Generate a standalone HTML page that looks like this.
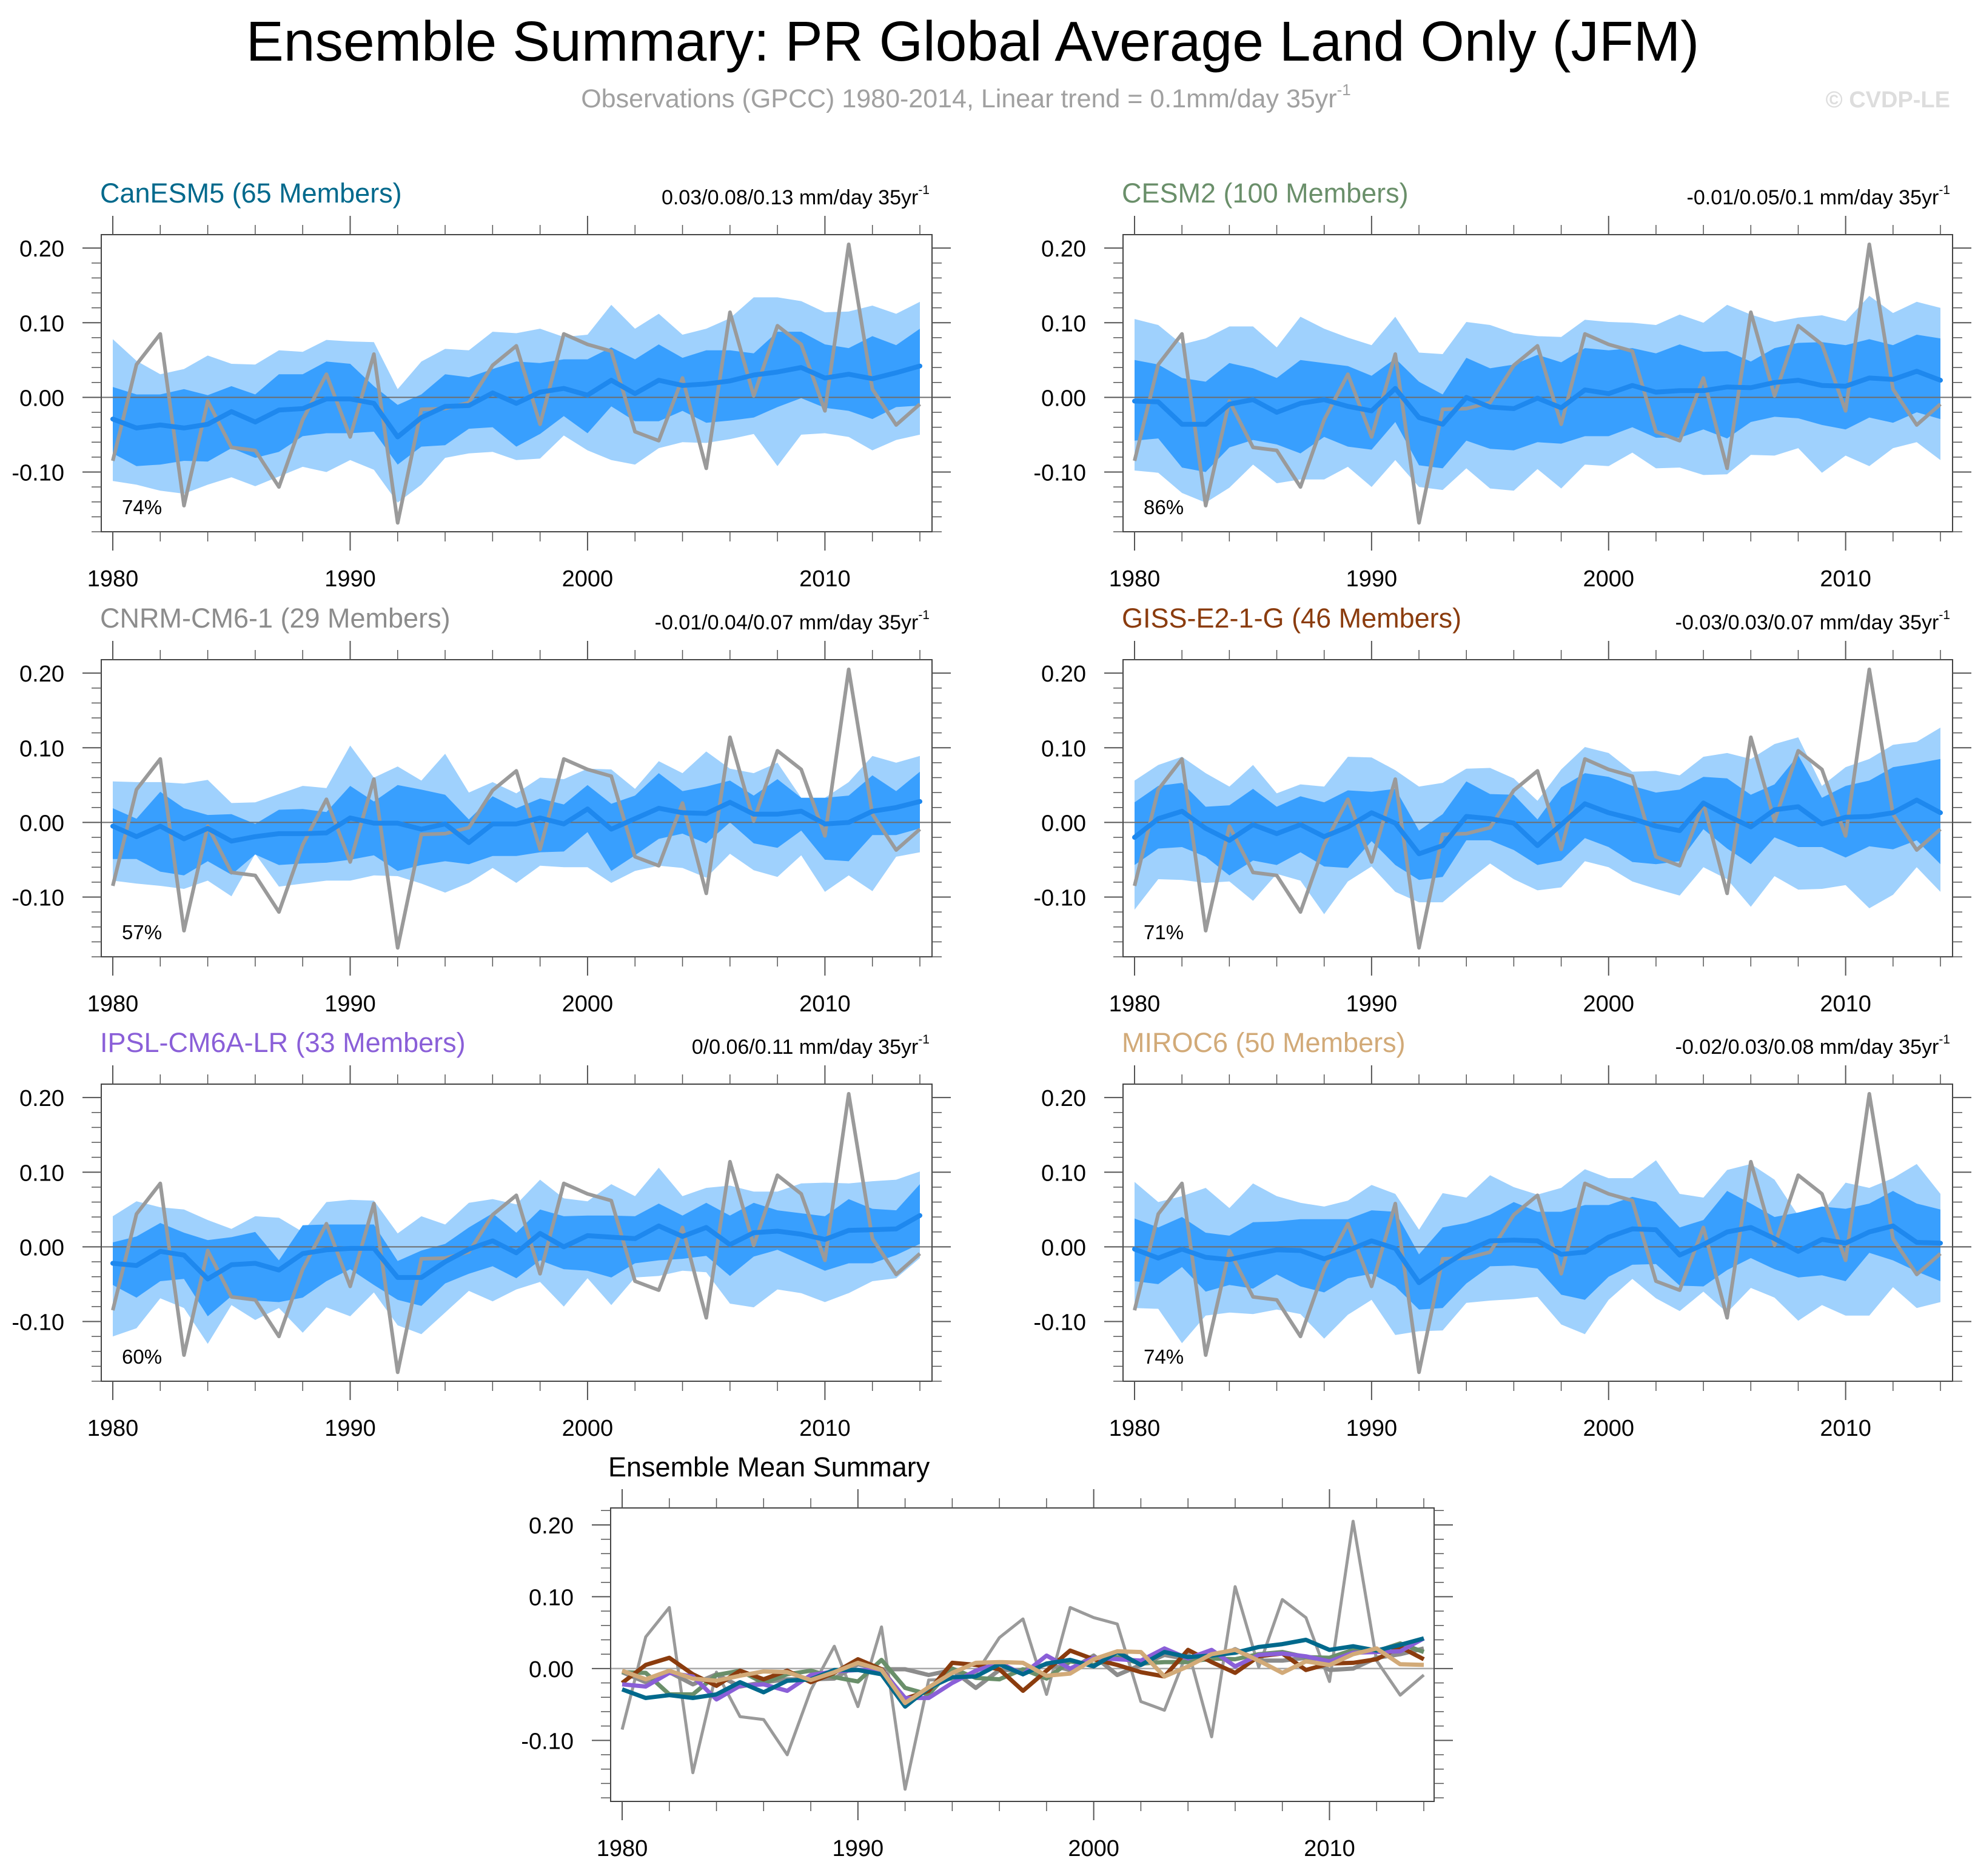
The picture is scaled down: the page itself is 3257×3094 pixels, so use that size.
<!DOCTYPE html>
<html>
<head>
<meta charset="utf-8">
<style>
html,body{margin:0;padding:0;background:#fff;}
svg{display:block;font-family:"Liberation Sans",Arial,sans-serif;}
</style>
</head>
<body>
<svg id="fig" width="3257" height="3094" viewBox="0 0 3257 3094" xmlns="http://www.w3.org/2000/svg">
<text x="1604" y="100" font-size="93" text-anchor="middle" fill="#000">Ensemble Summary: PR Global Average Land Only (JFM)</text>
<text x="1593" y="177" font-size="43" text-anchor="middle" fill="#a0a0a0">Observations (GPCC) 1980-2014, Linear trend = 0.1mm/day 35yr<tspan font-size="26" dy="-20">-1</tspan></text>
<text x="3216" y="177" font-size="38" font-weight="bold" text-anchor="end" fill="#dddddd">© CVDP-LE</text>
<g id="plots"></g>
</svg>
<script>
const years = [1980,1981,1982,1983,1984,1985,1986,1987,1988,1989,1990,1991,1992,1993,1994,1995,1996,1997,1998,1999,2000,2001,2002,2003,2004,2005,2006,2007,2008,2009,2010,2011,2012,2013,2014];
const obs = [-0.085,0.044,0.085,-0.145,-0.005,-0.067,-0.071,-0.12,-0.03,0.031,-0.053,0.058,-0.168,-0.016,-0.015,-0.007,0.043,0.069,-0.036,0.085,0.071,0.062,-0.046,-0.058,0.026,-0.095,0.114,0.002,0.096,0.071,-0.018,0.205,0.011,-0.037,-0.009];
const yTickValues = [0.2,0.1,0.0,-0.1];
const yTickLabels = ["0.20","0.10","0.00","-0.10"];
const xTickYears = [1980,1990,2000,2010];

const canesm5Mean = [-0.029,-0.041,-0.037,-0.041,-0.036,-0.019,-0.033,-0.017,-0.015,-0.002,-0.002,-0.008,-0.053,-0.027,-0.012,-0.011,0.006,-0.008,0.007,0.012,0.003,0.023,0.005,0.023,0.016,0.018,0.022,0.03,0.034,0.04,0.026,0.031,0.025,0.033,0.042];
const canesm5InnerHi = [0.014,0.004,0.004,0.011,0.003,0.015,0.004,0.031,0.031,0.048,0.045,0.015,-0.01,0.004,0.031,0.027,0.038,0.048,0.046,0.051,0.051,0.067,0.051,0.071,0.053,0.063,0.063,0.059,0.088,0.088,0.071,0.066,0.082,0.07,0.092];
const canesm5InnerLo = [-0.075,-0.092,-0.09,-0.085,-0.086,-0.068,-0.081,-0.073,-0.052,-0.048,-0.048,-0.046,-0.09,-0.066,-0.064,-0.042,-0.04,-0.066,-0.049,-0.025,-0.048,-0.012,-0.032,-0.032,-0.018,-0.034,-0.031,-0.027,-0.013,-0.001,-0.014,-0.018,-0.029,-0.013,-0.011];
const canesm5OuterHi = [0.078,0.049,0.031,0.038,0.056,0.045,0.044,0.063,0.061,0.077,0.075,0.074,0.011,0.048,0.065,0.063,0.088,0.086,0.092,0.081,0.084,0.124,0.092,0.112,0.084,0.092,0.106,0.134,0.134,0.129,0.114,0.115,0.123,0.112,0.128];
const canesm5OuterLo = [-0.112,-0.117,-0.125,-0.129,-0.117,-0.107,-0.119,-0.106,-0.093,-0.1,-0.084,-0.097,-0.141,-0.117,-0.081,-0.075,-0.073,-0.084,-0.082,-0.051,-0.071,-0.084,-0.09,-0.068,-0.06,-0.061,-0.056,-0.049,-0.092,-0.05,-0.048,-0.053,-0.071,-0.057,-0.05];

const cesm2Mean = [-0.005,-0.006,-0.036,-0.036,-0.009,-0.003,-0.02,-0.008,-0.003,-0.012,-0.018,0.012,-0.027,-0.036,0,-0.013,-0.015,-0.001,-0.014,0.01,0.005,0.016,0.007,0.009,0.009,0.014,0.013,0.02,0.023,0.016,0.015,0.026,0.024,0.035,0.023];
const cesm2InnerHi = [0.05,0.044,0.026,0.021,0.046,0.039,0.026,0.05,0.046,0.042,0.029,0.052,0.021,0.004,0.053,0.039,0.044,0.057,0.047,0.066,0.063,0.066,0.059,0.071,0.061,0.062,0.048,0.066,0.073,0.074,0.07,0.078,0.07,0.084,0.079];
const cesm2InnerLo = [-0.058,-0.055,-0.094,-0.1,-0.067,-0.057,-0.063,-0.075,-0.053,-0.066,-0.07,-0.033,-0.091,-0.095,-0.058,-0.069,-0.071,-0.06,-0.062,-0.052,-0.052,-0.04,-0.054,-0.054,-0.043,-0.055,-0.033,-0.026,-0.028,-0.037,-0.043,-0.027,-0.034,-0.02,-0.029];
const cesm2OuterHi = [0.105,0.097,0.071,0.079,0.095,0.095,0.067,0.108,0.092,0.08,0.07,0.108,0.06,0.058,0.101,0.097,0.086,0.082,0.081,0.104,0.101,0.1,0.097,0.111,0.1,0.124,0.111,0.101,0.107,0.11,0.102,0.136,0.113,0.128,0.12];
const cesm2OuterLo = [-0.098,-0.101,-0.128,-0.141,-0.121,-0.09,-0.115,-0.11,-0.11,-0.093,-0.12,-0.084,-0.12,-0.124,-0.095,-0.122,-0.125,-0.096,-0.122,-0.09,-0.092,-0.074,-0.095,-0.094,-0.104,-0.103,-0.077,-0.078,-0.068,-0.101,-0.078,-0.092,-0.068,-0.06,-0.084];

const cnrmMean = [-0.005,-0.019,-0.005,-0.022,-0.008,-0.025,-0.019,-0.015,-0.015,-0.014,0.006,-0.001,-0.001,-0.009,-0.002,-0.027,-0.002,-0.002,0.006,-0.002,0.018,-0.009,0.005,0.019,0.013,0.012,0.027,0.011,0.011,0.015,-0.002,0,0.015,0.02,0.028];
const cnrmInnerHi = [0.019,0.005,0.041,0.019,0.01,0.011,-0.002,0.017,0.018,0.014,0.049,0.028,0.05,0.044,0.037,0.004,0.035,0.019,0.032,0.024,0.05,0.025,0.036,0.066,0.042,0.048,0.056,0.036,0.058,0.033,0.033,0.036,0.063,0.042,0.068];
const cnrmInnerLo = [-0.049,-0.049,-0.066,-0.071,-0.052,-0.07,-0.043,-0.057,-0.055,-0.054,-0.05,-0.044,-0.065,-0.057,-0.052,-0.056,-0.045,-0.045,-0.04,-0.039,-0.013,-0.065,-0.044,-0.022,-0.015,-0.028,0,-0.028,-0.034,-0.011,-0.05,-0.052,-0.017,-0.017,-0.008];
const cnrmOuterHi = [0.055,0.054,0.054,0.052,0.057,0.026,0.027,0.038,0.049,0.046,0.103,0.06,0.075,0.056,0.092,0.04,0.054,0.039,0.06,0.058,0.072,0.071,0.045,0.082,0.066,0.095,0.072,0.066,0.08,0.033,0.033,0.054,0.089,0.08,0.089];
const cnrmOuterLo = [-0.078,-0.082,-0.085,-0.089,-0.078,-0.099,-0.042,-0.086,-0.082,-0.078,-0.078,-0.071,-0.072,-0.082,-0.094,-0.081,-0.061,-0.081,-0.058,-0.06,-0.06,-0.081,-0.065,-0.058,-0.061,-0.074,-0.042,-0.064,-0.073,-0.044,-0.093,-0.071,-0.092,-0.046,-0.04];

const gissMean = [-0.02,0.005,0.015,-0.008,-0.024,-0.003,-0.015,-0.003,-0.019,-0.006,0.013,-0.001,-0.042,-0.031,0.008,0.005,-0.001,-0.031,-0.003,0.025,0.013,0.005,-0.005,-0.011,0.026,0.009,-0.006,0.017,0.021,-0.002,0.007,0.008,0.013,0.03,0.013];
const gissInnerHi = [0.027,0.049,0.053,0.021,0.023,0.045,0.021,0.035,0.027,0.043,0.041,0.045,-0.011,0.011,0.055,0.038,0.037,0.004,0.047,0.066,0.061,0.049,0.04,0.044,0.061,0.059,0.037,0.051,0.09,0.033,0.049,0.056,0.074,0.079,0.085];
const gissInnerLo = [-0.057,-0.035,-0.033,-0.046,-0.071,-0.051,-0.057,-0.04,-0.059,-0.061,-0.025,-0.057,-0.077,-0.073,-0.024,-0.024,-0.037,-0.057,-0.051,-0.021,-0.033,-0.053,-0.056,-0.052,-0.009,-0.035,-0.056,-0.02,-0.033,-0.033,-0.047,-0.032,-0.036,-0.024,-0.056];
const gissOuterHi = [0.056,0.077,0.088,0.066,0.048,0.077,0.039,0.051,0.048,0.088,0.087,0.07,0.048,0.053,0.072,0.073,0.059,0.029,0.071,0.101,0.093,0.068,0.069,0.063,0.088,0.093,0.085,0.105,0.114,0.049,0.074,0.085,0.104,0.108,0.127];
const gissOuterLo = [-0.117,-0.076,-0.077,-0.081,-0.079,-0.105,-0.069,-0.078,-0.123,-0.079,-0.059,-0.093,-0.107,-0.107,-0.08,-0.055,-0.076,-0.091,-0.087,-0.052,-0.06,-0.079,-0.089,-0.098,-0.06,-0.076,-0.113,-0.072,-0.09,-0.089,-0.084,-0.115,-0.097,-0.06,-0.093];

const ipslMean = [-0.022,-0.025,-0.006,-0.011,-0.043,-0.024,-0.022,-0.031,-0.009,-0.004,-0.002,-0.002,-0.041,-0.041,-0.02,-0.003,0.008,-0.008,0.018,0,0.015,0.013,0.011,0.028,0.014,0.026,0.003,0.019,0.021,0.017,0.01,0.022,0.023,0.024,0.042];
const ipslInnerHi = [0.006,0.014,0.032,0.019,0.009,0.013,0.02,-0.018,0.029,0.03,0.03,0.03,-0.019,-0.005,0.004,0.026,0.045,0.019,0.05,0.041,0.042,0.042,0.041,0.058,0.042,0.059,0.042,0.059,0.049,0.045,0.041,0.064,0.051,0.049,0.084];
const ipslInnerLo = [-0.051,-0.068,-0.046,-0.043,-0.093,-0.066,-0.072,-0.074,-0.068,-0.046,-0.03,-0.051,-0.071,-0.079,-0.049,-0.036,-0.026,-0.042,-0.018,-0.03,-0.032,-0.041,-0.022,-0.018,-0.016,-0.012,-0.039,-0.013,-0.004,-0.018,-0.032,-0.022,-0.022,-0.011,0.004];
const ipslOuterHi = [0.041,0.061,0.053,0.05,0.036,0.024,0.041,0.039,0.02,0.06,0.063,0.062,0.018,0.041,0.03,0.059,0.064,0.057,0.09,0.065,0.061,0.084,0.068,0.106,0.068,0.079,0.082,0.074,0.074,0.085,0.086,0.085,0.088,0.09,0.101];
const ipslOuterLo = [-0.12,-0.109,-0.069,-0.082,-0.13,-0.078,-0.098,-0.082,-0.115,-0.081,-0.093,-0.061,-0.105,-0.117,-0.088,-0.059,-0.073,-0.057,-0.047,-0.08,-0.042,-0.078,-0.041,-0.039,-0.032,-0.034,-0.076,-0.081,-0.057,-0.062,-0.074,-0.062,-0.046,-0.042,-0.015];

const mirocMean = [-0.003,-0.015,-0.003,-0.014,-0.017,-0.01,-0.004,-0.005,-0.016,-0.005,0.008,-0.002,-0.048,-0.026,-0.006,0.008,0.009,0.008,-0.01,-0.007,0.013,0.024,0.023,-0.011,0.003,0.02,0.026,0.011,-0.006,0.01,0.005,0.02,0.028,0.006,0.005];
const mirocInnerHi = [0.038,0.026,0.04,0.019,0.015,0.033,0.034,0.037,0.037,0.037,0.049,0.047,-0.01,0.026,0.032,0.043,0.06,0.047,0.047,0.056,0.056,0.067,0.06,0.026,0.036,0.075,0.058,0.04,0.046,0.054,0.051,0.058,0.075,0.058,0.05];
const mirocInnerLo = [-0.046,-0.05,-0.027,-0.06,-0.051,-0.056,-0.037,-0.053,-0.061,-0.042,-0.036,-0.053,-0.084,-0.082,-0.049,-0.026,-0.025,-0.029,-0.064,-0.071,-0.04,-0.024,-0.023,-0.052,-0.053,-0.031,-0.015,-0.03,-0.041,-0.038,-0.046,-0.008,-0.018,-0.033,-0.046];
const mirocOuterHi = [0.087,0.06,0.068,0.079,0.052,0.085,0.068,0.059,0.054,0.062,0.083,0.071,0.023,0.072,0.066,0.096,0.08,0.07,0.079,0.104,0.092,0.092,0.116,0.071,0.066,0.103,0.111,0.09,0.042,0.046,0.086,0.079,0.092,0.111,0.071];
const mirocOuterLo = [-0.082,-0.083,-0.129,-0.092,-0.088,-0.09,-0.084,-0.09,-0.123,-0.091,-0.071,-0.118,-0.113,-0.112,-0.075,-0.072,-0.07,-0.067,-0.104,-0.117,-0.071,-0.043,-0.069,-0.086,-0.06,-0.088,-0.055,-0.068,-0.099,-0.078,-0.092,-0.092,-0.054,-0.082,-0.074];

const NS = "http://www.w3.org/2000/svg";
const root = document.getElementById("plots");
function mk(tag, attrs, parent){
  const el = document.createElementNS(NS, tag);
  for (const k in attrs) el.setAttribute(k, attrs[k]);
  (parent || root).appendChild(el);
  return el;
}

function makeAxes(box){
  const xs = y => box.x1980 + (y - 1980) * (box.x2014 - box.x1980) / 34;
  const ys = v => box.top + (box.vTop - v) / (box.vTop - box.vBot) * box.h;
  return {xs, ys};
}

function drawFrame(g, box, sc){
  const bottom = box.top + box.h, right = box.left + box.w;
  for (let yr = 1980; yr <= 2014; yr += 2){
    const major = (yr % 10 === 0);
    const len = major ? 31 : 16;
    const x = sc.xs(yr);
    const t1 = mk("line", {x1:x, y1:box.top, x2:x, y2:box.top - len, stroke:"#555", "stroke-width": major?2:1.5}, g);
    
    
    const t2 = mk("line", {x1:x, y1:bottom, x2:x, y2:bottom + len, stroke:"#555", "stroke-width": major?2:1.5}, g);
    
    
  }
  for (let k = -9; k <= 11; k++){
    const v = k * 0.02;
    if (v > box.vTop + 1e-9 || v < box.vBot - 1e-9) continue;
    const major = (k % 5 === 0);
    const len = major ? 31 : 16;
    const y = sc.ys(v);
    const l = mk("line", {x1:box.left, y1:y, x2:box.left - len, y2:y, stroke:"#555", "stroke-width": major?2:1.5}, g);
    
    
    const r = mk("line", {x1:right, y1:y, x2:right + len, y2:y, stroke:"#555", "stroke-width": major?2:1.5}, g);
    
    
  }
  yTickValues.forEach((v, i) => {
    const t = mk("text", {x: box.left - 61, y: sc.ys(v) + 14, "font-size": 38, "text-anchor":"end", fill:"#000"}, g);
    t.textContent = yTickLabels[i];
    
    
  });
  xTickYears.forEach(yr => {
    const t = mk("text", {x: sc.xs(yr), y: bottom + 90, "font-size": 38, "text-anchor":"middle", fill:"#000"}, g);
    t.textContent = String(yr);
    
    
  });
}

function drawBox(g, box){
  const b = mk("rect", {x:box.left, y:box.top, width:box.w, height:box.h, fill:"none", stroke:"#444", "stroke-width":2}, g);
  
  
}

function pathFrom(vals, sc){
  return vals.map((v, i) => (i ? "L" : "M") + sc.xs(years[i]).toFixed(1) + " " + sc.ys(v).toFixed(1)).join(" ");
}
function bandFrom(hi, lo, sc){
  let d = hi.map((v, i) => (i ? "L" : "M") + sc.xs(years[i]).toFixed(1) + " " + sc.ys(v).toFixed(1)).join(" ");
  for (let i = lo.length - 1; i >= 0; i--) d += " L" + sc.xs(years[i]).toFixed(1) + " " + sc.ys(lo[i]).toFixed(1);
  return d + " Z";
}

const models = [
  {name:"CanESM5", members:65, color:"#00698c", trend:"0.03/0.08/0.13 mm/day 35yr", pct:"74%", mean:canesm5Mean, ih:canesm5InnerHi, il:canesm5InnerLo, oh:canesm5OuterHi, ol:canesm5OuterLo, slug:"canesm5"},
  {name:"CESM2", members:100, color:"#6a8f6a", trend:"-0.01/0.05/0.1 mm/day 35yr", pct:"86%", mean:cesm2Mean, ih:cesm2InnerHi, il:cesm2InnerLo, oh:cesm2OuterHi, ol:cesm2OuterLo, slug:"cesm2"},
  {name:"CNRM-CM6-1", members:29, color:"#8c8c8c", trend:"-0.01/0.04/0.07 mm/day 35yr", pct:"57%", mean:cnrmMean, ih:cnrmInnerHi, il:cnrmInnerLo, oh:cnrmOuterHi, ol:cnrmOuterLo, slug:"cnrm-cm6-1"},
  {name:"GISS-E2-1-G", members:46, color:"#8b3c0e", trend:"-0.03/0.03/0.07 mm/day 35yr", pct:"71%", mean:gissMean, ih:gissInnerHi, il:gissInnerLo, oh:gissOuterHi, ol:gissOuterLo, slug:"giss-e2-1-g"},
  {name:"IPSL-CM6A-LR", members:33, color:"#8a5fd8", trend:"0/0.06/0.11 mm/day 35yr", pct:"60%", mean:ipslMean, ih:ipslInnerHi, il:ipslInnerLo, oh:ipslOuterHi, ol:ipslOuterLo, slug:"ipsl-cm6a-lr"},
  {name:"MIROC6", members:50, color:"#d2aa78", trend:"-0.02/0.03/0.08 mm/day 35yr", pct:"74%", mean:mirocMean, ih:mirocInnerHi, il:mirocInnerLo, oh:mirocOuterHi, ol:mirocOuterLo, slug:"miroc6"}
];

const rowTops = [387, 1088, 1788];
const cols = [{left:167, x1980:186, x2014:1517, w:1370}, {left:1852, x1980:1871, x2014:3200, w:1368}];

models.forEach((m, idx) => {
  const c = cols[idx % 2], top = rowTops[Math.floor(idx / 2)];
  const box = {left:c.left, top:top, w:c.w, h:490, x1980:c.x1980, x2014:c.x2014, vTop:0.218, vBot:-0.180};
  const sc = makeAxes(box);
  const g = mk("g", {});
  
  

  const outer = mk("path", {d: bandFrom(m.oh, m.ol, sc), fill:"#9fd1fd"}, g);
  
  
  const inner = mk("path", {d: bandFrom(m.ih, m.il, sc), fill:"#389ffe"}, g);
  
  
  const zl = mk("line", {x1:box.left, x2:box.left + box.w, y1:sc.ys(0), y2:sc.ys(0), stroke:"#6e6e6e", "stroke-width":2}, g);
  
  
  const ob = mk("path", {d: pathFrom(obs, sc), fill:"none", stroke:"#9a9a9a", "stroke-width":6, "stroke-linejoin":"round"}, g);
  
  
  const mn = mk("path", {d: pathFrom(m.mean, sc), fill:"none", stroke:"#1e88ee", "stroke-width":8, "stroke-linejoin":"round", "stroke-linecap":"round"}, g);
  
  

  drawBox(g, box);
  drawFrame(g, box, sc);

  const tt = mk("text", {x: box.left - 2, y: top - 53, "font-size": 45, fill: m.color}, g);
  tt.textContent = m.name + " (" + m.members + " Members)";
  
  
  const tr = mk("text", {x: box.left + box.w - 4, y: top - 50, "font-size": 34, "text-anchor":"end", fill:"#000"}, g);
  tr.textContent = m.trend;
  const sup = mk("tspan", {"font-size": 21, dy: -17}, tr);
  sup.textContent = "-1";
  
  
  const pc = mk("text", {x: box.left + 34, y: top + box.h - 29, "font-size": 33, fill:"#000"}, g);
  pc.textContent = m.pct;
  
  
});

(function(){
  const box = {left:1007, top:2487, w:1358, h:484, x1980:1026, x2014:2348, vTop:0.2236, vBot:-0.185};
  const sc = makeAxes(box);
  const g = mk("g", {});
  
  
  const zl = mk("line", {x1:box.left, x2:box.left + box.w, y1:sc.ys(0), y2:sc.ys(0), stroke:"#a8a8a8", "stroke-width":2.5}, g);
  
  
  const ob = mk("path", {d: pathFrom(obs, sc), fill:"none", stroke:"#9a9a9a", "stroke-width":5, "stroke-linejoin":"round"}, g);
  
  
  const order = [2, 1, 3, 4, 0, 5];
  order.forEach(i => {
    const m = models[i];
    const p = mk("path", {d: pathFrom(m.mean, sc), fill:"none", stroke:m.color, "stroke-width":7, "stroke-linejoin":"round"}, g);
    
    
  });
  drawBox(g, box);
  drawFrame(g, box, sc);
  const t = mk("text", {x: 1003, y: 2435, "font-size": 45, fill:"#000"}, g);
  t.textContent = "Ensemble Mean Summary";
  
  
})();
</script>
</body>
</html>
